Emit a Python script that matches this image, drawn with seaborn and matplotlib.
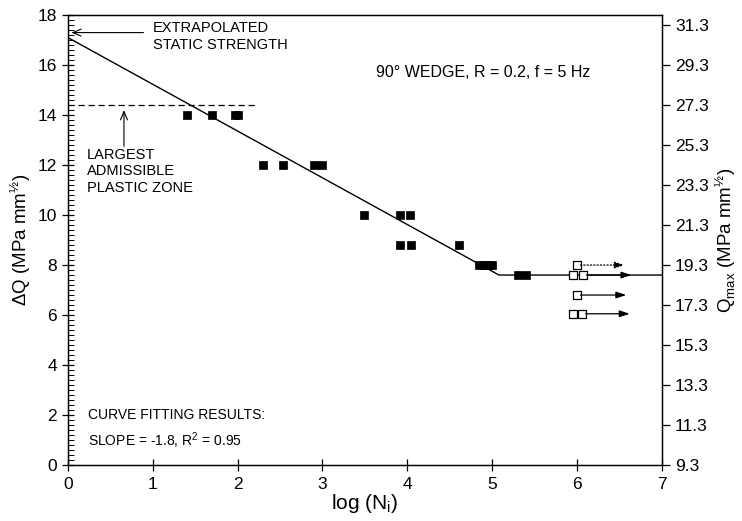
import numpy as np
import pandas as pd
import seaborn as sns
import matplotlib.pyplot as plt
from matplotlib.ticker import MultipleLocator, FixedLocator

# gemessene Punkte (gefüllt) : log(N_i) und Delta Q
filled_x = [1.40, 1.70, 1.97, 2.00, 2.30, 2.54, 2.90, 3.00, 3.49,
            3.91, 4.03, 3.91, 4.04, 4.61, 4.85, 4.90, 4.95, 5.00, 5.30, 5.40]
filled_y = [14.0, 14.0, 14.0, 14.0, 12.0, 12.0, 12.0, 12.0, 10.0,
            10.0, 10.0, 8.8, 8.8, 8.8, 8.0, 8.0, 8.0, 8.0, 7.6, 7.6]

# Durchläufer (offen) mit Pfeil
runout_x = [6.00, 5.95, 6.07, 6.00, 5.95, 6.06]
runout_y = [8.0, 7.6, 7.6, 6.8, 6.05, 6.05]
arrow_y = [8.0, 7.6, 6.8, 6.05]
arrow_start = [6.04, 6.11, 6.04, 6.10]
arrow_end = [6.56, 6.64, 6.58, 6.62]

# Ausgleichsgerade mit Knick
fit_x = [0.0, 5.08, 7.0]
fit_y = [17.1, 7.6, 7.6]

plastic_zone = 14.4
plastic_zone_end = 2.2

right_ticks = [9.3, 11.3, 13.3, 15.3, 17.3, 19.3, 21.3, 23.3, 25.3, 27.3, 29.3, 31.3]

sns.set_style("ticks")
plt.rcParams['font.family'] = ['Liberation Sans', 'DejaVu Sans']
plt.rcParams['mathtext.fontset'] = 'custom'
plt.rcParams['mathtext.rm'] = 'Liberation Sans'
for key in ["text.color", "axes.labelcolor", "xtick.color", "ytick.color", "axes.edgecolor"]:
    plt.rcParams[key] = "black"

fig, ax = plt.subplots(figsize=(7.42, 5.21), dpi=100)
fig.subplots_adjust(left=0.0916, right=0.892, bottom=0.1075, top=0.971)

df_filled = pd.DataFrame({"logN": filled_x, "dQ": filled_y})
df_runout = pd.DataFrame({"logN": runout_x, "dQ": runout_y})
df_fit = pd.DataFrame({"logN": fit_x, "dQ": fit_y})

sns.lineplot(data=df_fit, x="logN", y="dQ", sort=False, color="black",
             linewidth=1.0, ax=ax)
sns.scatterplot(data=df_filled, x="logN", y="dQ", marker="s", color="black",
                s=28, edgecolor="black", linewidth=0.5, ax=ax, zorder=3)
sns.scatterplot(data=df_runout, x="logN", y="dQ", marker="s", facecolor="white",
                s=26, edgecolor="black", linewidth=0.9, ax=ax, zorder=3)

for i, (y0, xs, xe) in enumerate(zip(arrow_y, arrow_start, arrow_end)):
    ax.annotate("", xy=(xe, y0), xytext=(xs, y0),
                arrowprops=dict(arrowstyle="-|>,head_length=0.6,head_width=0.2",
                                color="black", lw=0.9,
                                linestyle=":" if i == 0 else "-",
                                shrinkA=0, shrinkB=0))

ax.plot([0, plastic_zone_end], [plastic_zone, plastic_zone], color="black",
        linestyle=(0, (5, 3)), linewidth=0.9)

ax.annotate("", xy=(0.04, 17.3), xytext=(0.89, 17.3),
            arrowprops=dict(arrowstyle="->,head_length=0.6,head_width=0.25",
                            color="black", lw=0.8, shrinkA=0, shrinkB=0))
ax.text(1.0, 17.15, "EXTRAPOLATED\nSTATIC STRENGTH", fontsize=10.5,
        va="center", ha="left", linespacing=1.25)

ax.annotate("", xy=(0.66, 14.2), xytext=(0.66, 12.75),
            arrowprops=dict(arrowstyle="->,head_length=0.6,head_width=0.25",
                            color="black", lw=0.8, shrinkA=0, shrinkB=0))
ax.text(0.22, 11.75, "LARGEST\nADMISSIBLE\nPLASTIC ZONE", fontsize=10.5,
        va="center", ha="left", linespacing=1.25)

ax.text(3.63, 15.72, "90° WEDGE, R = 0.2, f = 5 Hz", fontsize=11.5,
        va="center", ha="left")
ax.text(0.24, 2.0, "CURVE FITTING RESULTS:", fontsize=10, va="center", ha="left")
ax.text(0.24, 0.98, "SLOPE = -1.8, R$^2$ = 0.95", fontsize=10, va="center", ha="left")

ax.set_xlim(0, 7)
ax.set_ylim(0, 18)
ax.xaxis.set_major_locator(MultipleLocator(1))
ax.yaxis.set_major_locator(MultipleLocator(2))
ax.yaxis.set_minor_locator(MultipleLocator(0.2))
ax.tick_params(axis="x", which="major", direction="inout", length=9, width=0.9,
               labelsize=12.5, pad=4)
ax.tick_params(axis="y", which="major", direction="inout", length=9, width=0.9,
               labelsize=12.5)
ax.tick_params(axis="y", which="minor", direction="in", length=4, width=0.7)
ax.set_xlabel("log (N$_\\mathrm{i}$)", fontsize=15, labelpad=0)
ax.set_ylabel("ΔQ (MPa mm$^{½}$)", fontsize=13.5, labelpad=3)

for side in ["top", "right", "left", "bottom"]:
    ax.spines[side].set_visible(True)
    ax.spines[side].set_linewidth(1.0)

ax2 = ax.twinx()
ax2.set_ylim(9.3, 9.3 + 18 * 1.25)
ax2.yaxis.set_major_locator(FixedLocator(right_ticks))
ax2.tick_params(axis="y", direction="out", length=6, width=0.9, labelsize=12.5)
ax2.set_ylabel("Q$_\\mathrm{max}$ (MPa mm$^{½}$)", fontsize=13.5, labelpad=3)

fig.savefig("out.png", dpi=100)
